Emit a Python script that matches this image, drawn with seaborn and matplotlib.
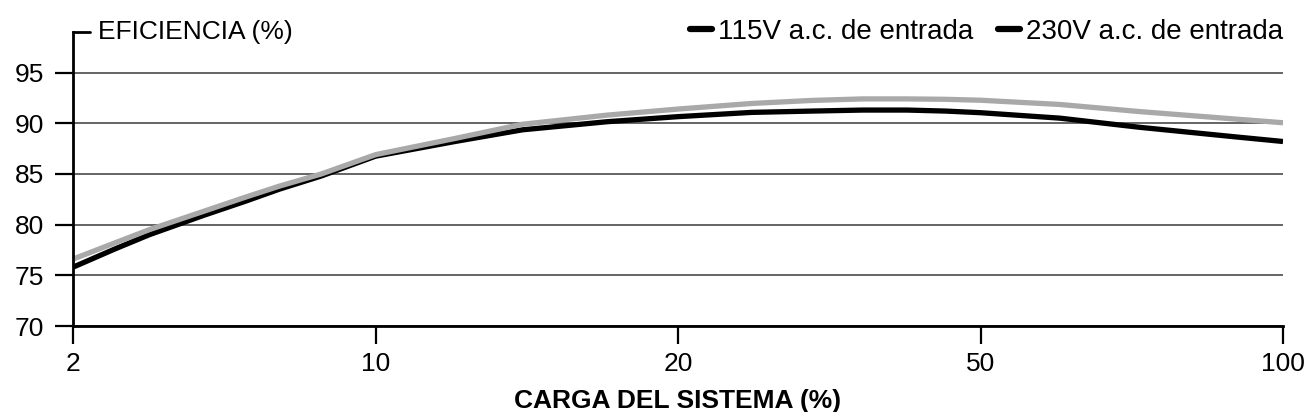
# ---------------------- IMPORTS ----------------------
import numpy as np
import pandas as pd
import matplotlib
matplotlib.use("Agg")
import matplotlib.pyplot as plt
from matplotlib.lines import Line2D
import seaborn as sns

# ---------------------- DATA ----------------------
carga = [2, 2.5, 3, 4, 5, 6, 7.5, 10, 12, 14, 17, 20, 25, 30, 35, 40, 45, 50, 60, 72, 90, 100]
ef_115 = [75.8, 77.6, 79.0, 80.9, 82.3, 83.5, 84.8, 86.75, 88.2, 89.35, 90.15, 90.65,
          91.07, 91.2, 91.3, 91.3, 91.2, 91.04, 90.5, 89.6, 88.64, 88.2]
ef_230 = [76.6, 78.2, 79.5, 81.3, 82.7, 83.8, 85.0, 86.9, 88.5, 89.9, 90.8, 91.4,
          91.95, 92.25, 92.4, 92.4, 92.36, 92.27, 91.85, 91.15, 90.4, 90.05]
series = ["115V a.c. de entrada", "230V a.c. de entrada"]
x_ticks = [2, 10, 20, 50, 100]
y_ticks = [70, 75, 80, 85, 90, 95]

df = pd.DataFrame({
    "carga": carga * 2,
    "eficiencia": ef_115 + ef_230,
    "serie": [series[0]] * len(carga) + [series[1]] * len(carga),
})

# ---------------------- STYLE ----------------------
sns.set_theme(style="white")
plt.rcParams["font.family"] = ["Liberation Sans", "DejaVu Sans"]
plt.rcParams["text.color"] = "black"
FS = 19

# evenly spaced ticks at 2, 10, 20, 50, 100 (log between ticks)
log_t = np.log10(x_ticks)
pos_t = np.arange(len(x_ticks))


def fwd(x):
    x = np.clip(np.asarray(x, dtype=float), 1e-6, None)
    return np.interp(np.log10(x), log_t, pos_t)


def inv(p):
    return 10 ** np.interp(np.asarray(p, dtype=float), pos_t, log_t)


# ---------------------- PLOT ----------------------
fig = plt.figure(figsize=(13.06, 4.12), dpi=100)
ax = fig.add_axes([73 / 1306, 1 - 326 / 412, (1283 - 73) / 1306, (326 - 32) / 412])

ax.set_xscale("function", functions=(fwd, inv))
ax.grid(axis="y", color="#3a3a3a", lw=1.1)
ax.set_axisbelow(True)

sns.lineplot(data=df, x="carga", y="eficiencia", hue="serie", hue_order=series,
             palette={series[0]: "black", series[1]: "#a9a9a9"},
             lw=3.8, legend=False, ax=ax, solid_capstyle="butt")

ax.set_xlim(2, 100)
ax.set_ylim(70, 99)
ax.set_xticks(x_ticks)
ax.set_xticklabels([str(t) for t in x_ticks])
ax.set_yticks(y_ticks)
ax.tick_params(axis="both", labelsize=FS, colors="black", length=13, width=1.6,
               direction="out")
ax.tick_params(axis="y", pad=8, left=True)
ax.tick_params(axis="x", pad=6, bottom=True)

for side in ["top", "right"]:
    ax.spines[side].set_visible(False)
for side in ["left", "bottom"]:
    ax.spines[side].set_color("black")
    ax.spines[side].set_linewidth(2)

ax.set_xlabel("CARGA DEL SISTEMA (%)", fontsize=FS, fontweight="bold", labelpad=9,
              color="black")
ax.set_ylabel("")

# little tick at the top of the y axis + axis title
ax.plot([0, 0.014], [1, 1], transform=ax.transAxes, color="black", lw=2, clip_on=False)
ax.text(0.0205, 1.0, "EFICIENCIA (%)", transform=ax.transAxes, fontsize=FS,
        va="center", ha="left", color="black")

handles = [Line2D([0], [0], color="black", lw=4.5) for _ in series]
leg = ax.legend(handles, series, loc="center right", bbox_to_anchor=(1.0, 1.0), ncol=2,
                frameon=False, fontsize=20, handlelength=0.8, handletextpad=0.2,
                columnspacing=0.9, borderpad=0, borderaxespad=0)
for t in leg.get_texts():
    t.set_color("black")

plt.savefig("out.png", dpi=100)
